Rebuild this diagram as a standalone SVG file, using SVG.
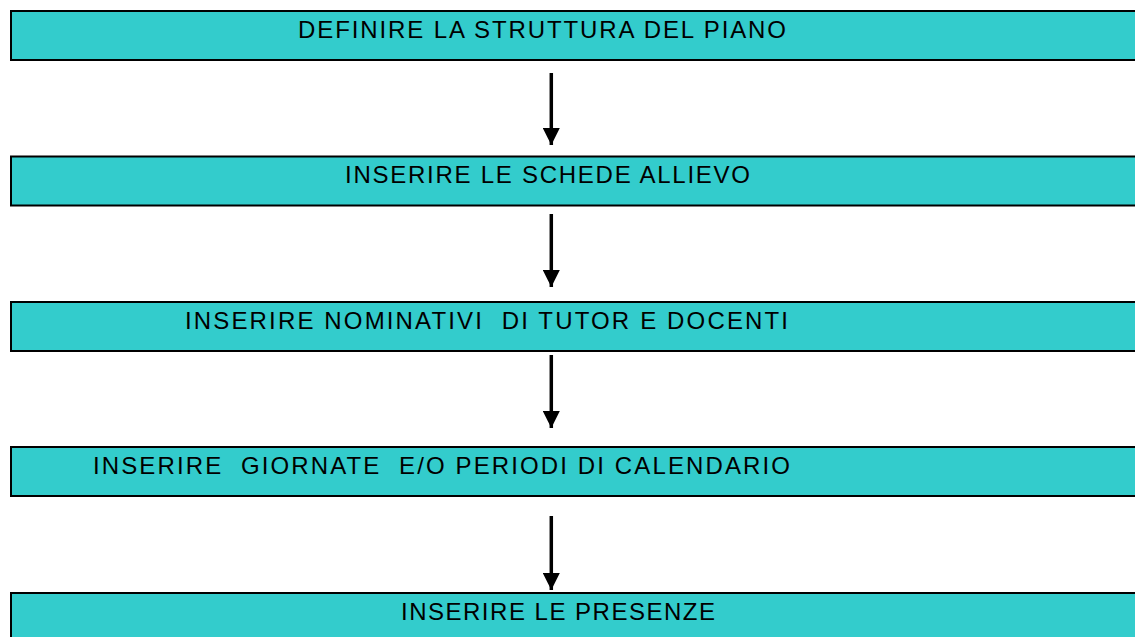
<svg xmlns="http://www.w3.org/2000/svg" width="1135" height="637" viewBox="0 0 1135 637">
<defs>
<style>
.box{fill:#33CCCC;stroke:#000;stroke-width:2}
.lbl{font-family:"Liberation Sans",Arial,sans-serif;font-size:24px;fill:#000;white-space:pre}
.conn{stroke:#000;stroke-width:3.5;fill:none}
</style>
<marker id="ah" markerUnits="userSpaceOnUse" markerWidth="18" markerHeight="17" refX="17" refY="8.5" orient="auto">
<path d="M0,0 L17,8.5 L0,17 Z" fill="#000"/>
</marker>
</defs>
<rect width="1135" height="637" fill="#fff"/>
<g id="n1"><rect class="box" x="11" y="11" width="1130" height="49"/><text class="lbl" x="298" y="37.7" textLength="488" lengthAdjust="spacing">DEFINIRE LA STRUTTURA DEL PIANO</text></g>
<g id="n2"><rect class="box" x="11" y="156.5" width="1130" height="49"/><text class="lbl" x="345" y="183" textLength="405" lengthAdjust="spacing">INSERIRE LE SCHEDE ALLIEVO</text></g>
<g id="n3"><rect class="box" x="11" y="302" width="1130" height="49"/><text class="lbl" x="185" y="328.7" textLength="603" lengthAdjust="spacing" xml:space="preserve">INSERIRE NOMINATIVI  DI TUTOR E DOCENTI</text></g>
<g id="n4"><rect class="box" x="11" y="447" width="1130" height="49"/><text class="lbl" x="93" y="473.7" textLength="697" lengthAdjust="spacing" xml:space="preserve">INSERIRE  GIORNATE  E/O PERIODI DI CALENDARIO</text></g>
<g id="n5"><rect class="box" x="11" y="593" width="1130" height="60"/><text class="lbl" x="401" y="619.7" textLength="314" lengthAdjust="spacing">INSERIRE LE PRESENZE</text></g>
<g id="connectors">
<line class="conn" x1="551.3" y1="73" x2="551.3" y2="145" marker-end="url(#ah)"/>
<line class="conn" x1="551.3" y1="214" x2="551.3" y2="287" marker-end="url(#ah)"/>
<line class="conn" x1="551.3" y1="355" x2="551.3" y2="428" marker-end="url(#ah)"/>
<line class="conn" x1="551.3" y1="516" x2="551.3" y2="590" marker-end="url(#ah)"/>
</g>
</svg>
